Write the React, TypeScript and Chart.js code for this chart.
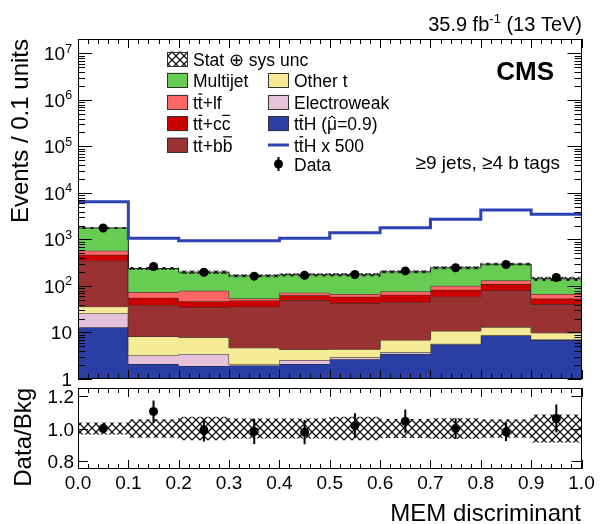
import React, { useEffect, useRef } from "react";
import { Chart, registerables } from "chart.js";

Chart.register(...registerables);

// ---- MEM discriminant histogram: bin edges and per-process yields ----
const binEdges = [0, 0.1, 0.2, 0.3, 0.4, 0.5, 0.6, 0.7, 0.8, 0.9, 1.0];

// stacked processes, bottom to top
const ttH = [13, 2.1, 1.9, 1.95, 2.1, 2.65, 3.45, 5.5, 8.6, 6.9];
const electroweak = [13, 1.1, 1.55, 0.1, 0.45, 0.28, 0.3, 0.2, 0.15, 0.15];
const otherT = [10, 5.0, 4.45, 2.65, 1.8, 1.45, 3.15, 5.1, 4.3, 2.8];
const ttbb = [312, 30.5, 27, 31.3, 45.6, 38.6, 38, 47.7, 67, 31];
const ttcc = [122, 17.3, 12, 13, 13, 16, 20, 24.5, 30, 13.3];
const ttlf = [105, 18, 32, 5, 9, 8, 11, 18, 21, 13];
const multijet = [1195, 164, 120, 112, 102, 107, 126, 146, 165, 76];

// signal shape scaled by 500
const ttHx500 = [6500, 1060, 945, 945, 1060, 1400, 1795, 2720, 4300, 3480];

// observed events and their uncertainties
const observed = [1770, 263, 197, 163, 170, 177, 211, 247, 290, 152];
const observedErr = [42, 16.2, 14, 12.8, 13, 13.3, 14.5, 15.7, 17, 12.3];

// relative stat (+) syst uncertainty on the total background
const bkgRelUnc = [0.035, 0.055, 0.07, 0.06, 0.06, 0.07, 0.057, 0.062, 0.055, 0.085];

const yTickExponents = [0, 1, 2, 3, 4, 5, 6, 7];
const ratioTicks = [0.8, 1.0, 1.2];
const xTickLabels = ["0.0", "0.1", "0.2", "0.3", "0.4", "0.5", "0.6", "0.7", "0.8", "0.9", "1.0"];

const FONT = '"Liberation Sans", Arimo, Arial, Helvetica, sans-serif';
const W = 601;
const H = 524;

const COLORS = {
  ttH: "rgb(43,62,165)",
  electroweak: "rgb(230,193,218)",
  otherT: "rgb(245,234,150)",
  ttbb: "rgb(153,51,51)",
  ttcc: "rgb(204,0,0)",
  ttlf: "rgb(255,102,102)",
  multijet: "rgb(102,204,82)",
  sigLine: "rgb(45,66,182)",
  outline: "#262626",
};

const stackDefs = [
  { key: "ttH", values: ttH, color: COLORS.ttH },
  { key: "electroweak", values: electroweak, color: COLORS.electroweak },
  { key: "otherT", values: otherT, color: COLORS.otherT },
  { key: "ttbb", values: ttbb, color: COLORS.ttbb },
  { key: "ttcc", values: ttcc, color: COLORS.ttcc },
  { key: "ttlf", values: ttlf, color: COLORS.ttlf },
  { key: "multijet", values: multijet, color: COLORS.multijet },
];

const nBins = binEdges.length - 1;
const binCenters = binEdges.slice(0, nBins).map((lo, i) => (lo + binEdges[i + 1]) / 2);
const totalBkg = binCenters.map((_, i) => stackDefs.reduce((s, d) => s + d.values[i], 0));

// step-line points: one per lower edge plus the closing upper edge
function stepPoints(vals: number[]) {
  const pts = vals.map((v, i) => ({ x: binEdges[i], y: v }));
  pts.push({ x: binEdges[nBins], y: vals[nBins - 1] });
  return pts;
}

// cross-hatch fill used for the uncertainty band
function makeHatch(): CanvasPattern | string {
  const c = document.createElement("canvas");
  c.width = 8;
  c.height = 8;
  const g = c.getContext("2d");
  if (!g) return "rgba(0,0,0,0.3)";
  g.strokeStyle = "#111";
  g.lineWidth = 1.25;
  g.beginPath();
  g.moveTo(-1, -1);
  g.lineTo(9, 9);
  g.moveTo(-1, 9);
  g.lineTo(9, -1);
  g.stroke();
  const p = g.createPattern(c, "repeat");
  return p || "rgba(0,0,0,0.3)";
}

type Part = { t: string; bar?: boolean; hat?: boolean; sup?: boolean };

function richWidth(ctx: CanvasRenderingContext2D, parts: Part[], size: number) {
  let w = 0;
  for (const p of parts) {
    ctx.font = `${p.sup ? size * 0.65 : size}px ${FONT}`;
    w += ctx.measureText(p.t).width;
  }
  return w;
}

function drawRich(
  ctx: CanvasRenderingContext2D,
  parts: Part[],
  x: number,
  y: number,
  size: number,
  align: "left" | "right" = "left"
) {
  let cx = align === "right" ? x - richWidth(ctx, parts, size) : x;
  ctx.textAlign = "left";
  ctx.textBaseline = "alphabetic";
  for (const p of parts) {
    const sz = p.sup ? size * 0.65 : size;
    ctx.font = `${sz}px ${FONT}`;
    const w = ctx.measureText(p.t).width;
    ctx.fillText(p.t, cx, p.sup ? y - size * 0.4 : y);
    if (p.bar) {
      ctx.lineWidth = Math.max(1, size * 0.07);
      ctx.beginPath();
      const by = y - size * 0.84;
      ctx.moveTo(cx + size * 0.03, by);
      ctx.lineTo(cx + w - size * 0.03, by);
      ctx.stroke();
    }
    if (p.hat) {
      const mid = cx + w / 2;
      const hy = y - size * 0.66;
      ctx.lineWidth = Math.max(1, size * 0.06);
      ctx.beginPath();
      ctx.moveTo(mid - w * 0.32, hy);
      ctx.lineTo(mid, hy - size * 0.14);
      ctx.lineTo(mid + w * 0.32, hy);
      ctx.stroke();
    }
    cx += w;
  }
}

function drawFrame(ctx: CanvasRenderingContext2D, a: { left: number; right: number; top: number; bottom: number }) {
  ctx.strokeStyle = "#000";
  ctx.lineWidth = 1;
  const l = Math.round(a.left) + 0.5;
  const r = Math.round(a.right) - 0.5;
  const t = Math.round(a.top) + 0.5;
  const b = Math.round(a.bottom) - 0.5;
  ctx.strokeRect(l, t, r - l, b - t);
}

function xTicks(ctx: CanvasRenderingContext2D, chart: any, major: number, minor: number) {
  const a = chart.chartArea;
  const xs = chart.scales.x;
  ctx.beginPath();
  for (let i = 0; i <= 50; i++) {
    const px = Math.round(xs.getPixelForValue(i / 50)) + 0.5;
    const len = i % 5 === 0 ? major : minor;
    ctx.moveTo(px, a.bottom);
    ctx.lineTo(px, a.bottom - len);
    ctx.moveTo(px, a.top);
    ctx.lineTo(px, a.top + len);
  }
  ctx.stroke();
}

function yTicksAt(ctx: CanvasRenderingContext2D, chart: any, vals: number[], lens: number[]) {
  const a = chart.chartArea;
  const ys = chart.scales.y;
  ctx.beginPath();
  vals.forEach((v, i) => {
    const py = Math.round(ys.getPixelForValue(v)) + 0.5;
    ctx.moveTo(a.left, py);
    ctx.lineTo(a.left + lens[i], py);
    ctx.moveTo(a.right, py);
    ctx.lineTo(a.right - lens[i], py);
  });
  ctx.stroke();
}

const DATA_INDEX = stackDefs.length + 2;

const mainDecor = {
  id: "mainDecor",
  beforeDatasetDraw(chart: any, args: any) {
    if (args.index !== DATA_INDEX) return;
    const { ctx } = chart;
    const xs = chart.scales.x;
    const ys = chart.scales.y;
    ctx.save();
    ctx.strokeStyle = "#000";
    ctx.lineWidth = 2;
    ctx.beginPath();
    observed.forEach((v, i) => {
      const px = xs.getPixelForValue(binCenters[i]);
      ctx.moveTo(px, ys.getPixelForValue(v - observedErr[i]));
      ctx.lineTo(px, ys.getPixelForValue(v + observedErr[i]));
    });
    ctx.stroke();
    ctx.restore();
  },
  afterDraw(chart: any) {
    const { ctx } = chart;
    const a = chart.chartArea;
    const ys = chart.scales.y;
    const hatch = chart.options.plugins.mainDecor.hatch;
    ctx.save();
    drawFrame(ctx, a);
    xTicks(ctx, chart, 9, 5);

    // logarithmic y ticks
    const vals: number[] = [];
    const lens: number[] = [];
    for (const e of yTickExponents) {
      for (let m = 1; m <= 9; m++) {
        const v = m * Math.pow(10, e);
        if (v > ys.max) break;
        vals.push(v);
        lens.push(m === 1 ? 14 : 7);
      }
    }
    yTicksAt(ctx, chart, vals, lens);

    // y tick labels
    ctx.fillStyle = "#000";
    ctx.strokeStyle = "#000";
    for (const e of yTickExponents) {
      const py = ys.getPixelForValue(Math.pow(10, e));
      const parts: Part[] = e === 0 ? [{ t: "1" }] : e === 1 ? [{ t: "10" }] : [{ t: "10" }, { t: String(e), sup: true }];
      drawRich(ctx, parts, 72, py + 7, 19, "right");
    }

    // axis title
    ctx.save();
    ctx.translate(28, 39);
    ctx.rotate(-Math.PI / 2);
    ctx.font = `24px ${FONT}`;
    ctx.textAlign = "right";
    ctx.textBaseline = "alphabetic";
    ctx.fillText("Events / 0.1 units", 0, 0);
    ctx.restore();

    // luminosity header
    drawRich(ctx, [{ t: "35.9 fb" }, { t: "-1", sup: true }, { t: " (13 TeV)" }], 582, 31, 20, "right");

    // CMS label and category
    ctx.font = `bold 26px ${FONT}`;
    ctx.textAlign = "right";
    ctx.fillText("CMS", 554, 80);
    ctx.font = `19px ${FONT}`;
    ctx.fillText("\u22659 jets, \u22654 b tags", 560, 169);

    // legend
    const fs = 17.5;
    const c1 = 167;
    const c2 = 268;
    const bw = 21;
    const bh = 15;
    const rows = [59, 80.2, 102.3, 123.6, 145, 164];
    const box = (x: number, yc: number, fill: any) => {
      ctx.fillStyle = fill;
      ctx.fillRect(x, yc - bh / 2, bw, bh);
      ctx.strokeStyle = "#333";
      ctx.lineWidth = 1;
      ctx.strokeRect(x + 0.5, Math.round(yc - bh / 2) + 0.5, bw - 1, bh - 1);
    };
    ctx.fillStyle = "#fff";
    ctx.fillRect(c1, rows[0] - bh / 2, bw, bh);
    box(c1, rows[0], hatch);
    box(c1, rows[1], COLORS.multijet);
    box(c1, rows[2], COLORS.ttlf);
    box(c1, rows[3], COLORS.ttcc);
    box(c1, rows[4], COLORS.ttbb);
    box(c2, rows[1], COLORS.otherT);
    box(c2, rows[2], COLORS.electroweak);
    box(c2, rows[3], COLORS.ttH);

    ctx.strokeStyle = COLORS.sigLine;
    ctx.lineWidth = 3;
    ctx.beginPath();
    ctx.moveTo(c2, rows[4]);
    ctx.lineTo(c2 + bw, rows[4]);
    ctx.stroke();

    ctx.fillStyle = "#000";
    ctx.strokeStyle = "#000";
    ctx.lineWidth = 2;
    ctx.beginPath();
    ctx.moveTo(c2 + bw / 2, rows[5] - 7);
    ctx.lineTo(c2 + bw / 2, rows[5] + 7);
    ctx.stroke();
    ctx.beginPath();
    ctx.arc(c2 + bw / 2, rows[5], 4.5, 0, Math.PI * 2);
    ctx.fill();

    const tx1 = c1 + bw + 5;
    const tx2 = c2 + bw + 5;
    const bl = (r: number) => rows[r] + 6.5;
    drawRich(ctx, [{ t: "Stat \u2295 sys unc" }], tx1, bl(0), fs);
    drawRich(ctx, [{ t: "Multijet" }], tx1, bl(1), fs);
    drawRich(ctx, [{ t: "t" }, { t: "t", bar: true }, { t: "+lf" }], tx1, bl(2), fs);
    drawRich(ctx, [{ t: "t" }, { t: "t", bar: true }, { t: "+c" }, { t: "c", bar: true }], tx1, bl(3), fs);
    drawRich(ctx, [{ t: "t" }, { t: "t", bar: true }, { t: "+b" }, { t: "b", bar: true }], tx1, bl(4), fs);
    drawRich(ctx, [{ t: "Other t" }], tx2, bl(1), fs);
    drawRich(ctx, [{ t: "Electroweak" }], tx2, bl(2), fs);
    drawRich(ctx, [{ t: "t" }, { t: "t", bar: true }, { t: "H (" }, { t: "\u03bc", hat: true }, { t: "=0.9)" }], tx2, bl(3), fs);
    drawRich(ctx, [{ t: "t" }, { t: "t", bar: true }, { t: "H x 500" }], tx2, bl(4), fs);
    drawRich(ctx, [{ t: "Data" }], tx2, bl(5), fs);
    ctx.restore();
  },
};

const ratioDecor = {
  id: "ratioDecor",
  beforeDatasetDraw(chart: any, args: any) {
    if (args.index !== 1) return;
    const { ctx } = chart;
    const xs = chart.scales.x;
    const ys = chart.scales.y;
    ctx.save();
    ctx.strokeStyle = "#000";
    ctx.lineWidth = 2;
    ctx.beginPath();
    observed.forEach((v, i) => {
      const px = xs.getPixelForValue(binCenters[i]);
      const r = v / totalBkg[i];
      const e = observedErr[i] / totalBkg[i];
      ctx.moveTo(px, ys.getPixelForValue(r - e));
      ctx.lineTo(px, ys.getPixelForValue(r + e));
    });
    ctx.stroke();
    ctx.restore();
  },
  afterDraw(chart: any) {
    const { ctx } = chart;
    const a = chart.chartArea;
    const xs = chart.scales.x;
    const ys = chart.scales.y;
    ctx.save();
    drawFrame(ctx, a);
    xTicks(ctx, chart, 9, 5);
    yTicksAt(ctx, chart, ratioTicks, ratioTicks.map(() => 10));

    ctx.fillStyle = "#000";
    ctx.font = `19px ${FONT}`;
    ctx.textAlign = "right";
    ctx.textBaseline = "alphabetic";
    ratioTicks.forEach((v) => {
      ctx.fillText(v.toFixed(1), 74, ys.getPixelForValue(v) + 7);
    });
    ctx.textAlign = "center";
    xTickLabels.forEach((lab, i) => {
      ctx.fillText(lab, xs.getPixelForValue(binEdges[i]), 489);
    });

    ctx.font = `24px ${FONT}`;
    ctx.textAlign = "right";
    ctx.fillText("MEM discriminant", 581, 521);

    ctx.save();
    ctx.translate(31, 388);
    ctx.rotate(-Math.PI / 2);
    ctx.textAlign = "right";
    ctx.fillText("Data/Bkg", 0, 0);
    ctx.restore();
    ctx.restore();
  },
};

export default function App() {
  const mainRef = useRef<HTMLCanvasElement | null>(null);
  const ratioRef = useRef<HTMLCanvasElement | null>(null);

  useEffect(() => {
    document.body.style.margin = "0";
    const hatch = makeHatch();

    const stackSets = (() => {
      let cum = new Array(nBins).fill(0);
      return stackDefs.map((d, k) => {
        cum = cum.map((v, i) => v + d.values[i]);
        return {
          type: "line" as const,
          label: d.key,
          data: stepPoints(cum),
          stepped: "before" as const,
          borderColor: COLORS.outline,
          borderWidth: 1,
          backgroundColor: d.color,
          fill: k === 0 ? "start" : "-1",
          pointRadius: 0,
          order: 20 - k,
        };
      });
    })();

    const mainDatasets: any[] = [
      ...stackSets,
      {
        type: "bar",
        label: "unc",
        data: binCenters.map((x, i) => ({
          x,
          y: [totalBkg[i] * (1 - bkgRelUnc[i]), totalBkg[i] * (1 + bkgRelUnc[i])],
        })),
        backgroundColor: hatch,
        borderWidth: 0,
        barPercentage: 1,
        categoryPercentage: 1,
        order: 3,
      },
      {
        type: "line",
        label: "ttH x 500",
        data: stepPoints(ttHx500),
        stepped: "before",
        borderColor: COLORS.sigLine,
        borderWidth: 3,
        fill: false,
        pointRadius: 0,
        order: 2,
      },
      {
        type: "line",
        label: "Data",
        data: binCenters.map((x, i) => ({ x, y: observed[i] })),
        showLine: false,
        pointRadius: 4.5,
        pointBackgroundColor: "#000",
        pointBorderColor: "#000",
        pointBorderWidth: 0,
        order: 0,
      },
    ];

    const main = new Chart(mainRef.current as HTMLCanvasElement, {
      type: "bar",
      data: { datasets: mainDatasets },
      options: {
        responsive: false,
        animation: false,
        devicePixelRatio: 1,
        events: [],
        layout: { padding: { left: 78, right: 19.5, top: 39, bottom: H - 379 } },
        plugins: {
          legend: { display: false },
          tooltip: { enabled: false },
          mainDecor: { hatch },
        } as any,
        scales: {
          x: { type: "linear", min: 0, max: 1, offset: false, display: false },
          y: { type: "logarithmic", min: 1, max: 2.05e7, display: false },
        },
      },
      plugins: [mainDecor],
    });

    const ratio = new Chart(ratioRef.current as HTMLCanvasElement, {
      type: "bar",
      data: {
        datasets: [
          {
            type: "bar",
            label: "unc",
            data: binCenters.map((x, i) => ({ x, y: [1 - bkgRelUnc[i], 1 + bkgRelUnc[i]] })),
            backgroundColor: hatch,
            borderWidth: 0,
            barPercentage: 1,
            categoryPercentage: 1,
            order: 1,
          } as any,
          {
            type: "line",
            label: "Data/Bkg",
            data: binCenters.map((x, i) => ({ x, y: observed[i] / totalBkg[i] })),
            showLine: false,
            pointRadius: 4.5,
            pointBackgroundColor: "#000",
            pointBorderColor: "#000",
            pointBorderWidth: 0,
            order: 0,
          } as any,
        ],
      },
      options: {
        responsive: false,
        animation: false,
        devicePixelRatio: 1,
        events: [],
        layout: { padding: { left: 78, right: 19.5, top: 388, bottom: H - 469 } },
        plugins: { legend: { display: false }, tooltip: { enabled: false } },
        scales: {
          x: { type: "linear", min: 0, max: 1, offset: false, display: false },
          y: { type: "linear", min: 0.75, max: 1.25, display: false },
        },
      },
      plugins: [ratioDecor],
    });

    return () => {
      main.destroy();
      ratio.destroy();
    };
  }, []);

  const canvasStyle: React.CSSProperties = { position: "absolute", left: 0, top: 0 };
  return (
    <div style={{ position: "fixed", left: 0, top: 0, width: W, height: H, background: "#fff" }}>
      <canvas ref={mainRef} width={W} height={H} style={canvasStyle} />
      <canvas ref={ratioRef} width={W} height={H} style={canvasStyle} />
    </div>
  );
}
